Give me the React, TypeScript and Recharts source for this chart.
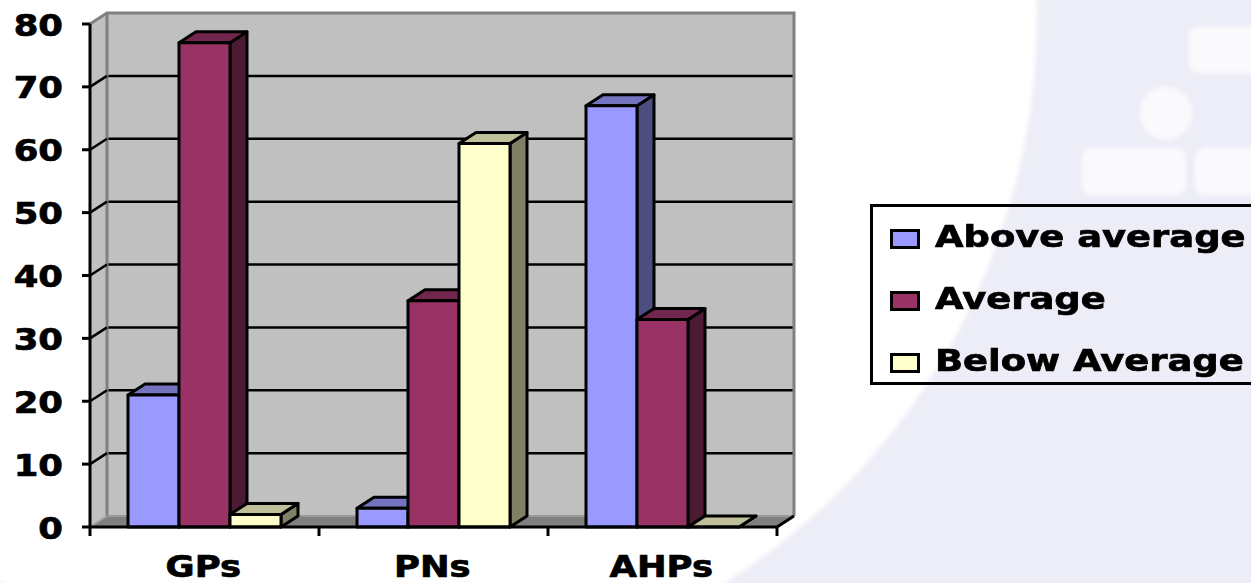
import React from 'react';
import { BarChart, Bar, XAxis, YAxis, Legend, ReferenceArea } from 'recharts';

const categories = ['GPs', 'PNs', 'AHPs'];
const aboveAverage = [21, 3, 67];
const average = [77, 36, 33];
const belowAverage = [2, 61, 0];
const yTicks = [0, 10, 20, 30, 40, 50, 60, 70, 80];

const seriesInfo = [
  { key: 'above', name: 'Above average', front: '#9999FF', top: '#7373C0', side: '#4D4D80' },
  { key: 'average', name: 'Average', front: '#993366', top: '#73264D', side: '#4D1A33' },
  { key: 'below', name: 'Below Average', front: '#FFFFCC', top: '#BFBF99', side: '#808066' },
];

const data = categories.map((c, i) => ({
  category: c,
  above: aboveAverage[i],
  average: average[i],
  below: belowAverage[i],
}));

const DX = 17;
const DY = 11;
const FONT = '"DejaVu Sans", Verdana, sans-serif';
const YMAX = yTicks[yTicks.length - 1];

const Bar3D = (props: any) => {
  const { x, y, width, height, fill, topColor, sideColor } = props;
  if (x == null || y == null) return null;
  const h = Math.max(0, height || 0);
  const s = { stroke: '#000', strokeWidth: 3, strokeLinejoin: 'round' as const };
  return (
    <g>
      <polygon
        points={`${x + width},${y} ${x + width + DX},${y - DY} ${x + width + DX},${y + h - DY} ${x + width},${y + h}`}
        fill={sideColor}
        {...s}
      />
      <polygon
        points={`${x},${y} ${x + DX},${y - DY} ${x + width + DX},${y - DY} ${x + width},${y}`}
        fill={topColor}
        {...s}
      />
      <rect x={x} y={y} width={width} height={h} fill={fill} {...s} />
    </g>
  );
};

const Walls = (props: any) => {
  const { x, y, width, height } = props;
  if (x == null) return null;
  const b = y + height;
  const n = categories.length;
  return (
    <g>
      <polygon points={`${x},${y} ${x + DX},${y - DY} ${x + DX},${b - DY} ${x},${b}`} fill="#C0C0C0" />
      <rect x={x + DX} y={y - DY} width={width} height={height} fill="#C0C0C0" />
      <polygon points={`${x},${b} ${x + DX},${b - DY} ${x + width + DX},${b - DY} ${x + width},${b}`} fill="#808080" />
      <line x1={x + DX} y1={b - DY} x2={x + width + DX} y2={b - DY} stroke="#9a9a9a" strokeWidth={2} />
      {yTicks
        .filter((v) => v > 0 && v < YMAX)
        .map((v) => {
          const yy = y + height * (1 - v / YMAX) - DY;
          return <line key={v} x1={x + DX} y1={yy} x2={x + width + DX} y2={yy} stroke="#000" strokeWidth={2.5} />;
        })}
      <polyline
        points={`${x},${y} ${x + DX},${y - DY} ${x + width + DX},${y - DY} ${x + width + DX},${b - DY}`}
        fill="none"
        stroke="#808080"
        strokeWidth={3}
      />
      <line x1={x + DX} y1={y - DY} x2={x + DX} y2={b - DY} stroke="#808080" strokeWidth={3} />
      <line x1={x} y1={b} x2={x + DX} y2={b - DY} stroke="#a0a0a0" strokeWidth={2} />
      <line x1={x + width} y1={b} x2={x + width + DX} y2={b - DY} stroke="#000" strokeWidth={3} />
      {Array.from({ length: n + 1 }).map((_, i) => {
        const xx = x + (width * i) / n;
        return <line key={i} x1={xx} y1={b} x2={xx} y2={b + 9} stroke="#000" strokeWidth={3} />;
      })}
    </g>
  );
};

const YTick = (props: any) => {
  const { x, y, payload } = props;
  const axisX = x + 26;
  const v = payload.value;
  return (
    <g>
      {v > 0 && v < YMAX && (
        <line x1={axisX} y1={y} x2={axisX + DX} y2={y - DY} stroke="#000" strokeWidth={2.5} />
      )}
      <g transform={`translate(${x - 1},${y + 1}) scale(1.2,1)`}>
        <text
          x={0}
          y={0}
          dy="0.36em"
          textAnchor="end"
          fontFamily={FONT}
          fontWeight="bold"
          fontSize={29.5}
          fill="#000"
          stroke="#000"
          strokeWidth={0.7}
        >
          {v}
        </text>
      </g>
    </g>
  );
};

const XTick = (props: any) => {
  const { x, y, payload } = props;
  return (
    <g transform={`translate(${x},${y}) scale(1.2,1)`}>
      <text
        x={-1}
        y={0}
        dy={42}
        textAnchor="middle"
        fontFamily={FONT}
        fontWeight="bold"
        fontSize={29.5}
        fill="#000"
        stroke="#000"
        strokeWidth={0.7}
      >
        {payload.value}
      </text>
    </g>
  );
};

const LegendBox = () => (
  <div
    style={{
      position: 'relative',
      width: 400,
      height: 181,
      border: '3px solid #000',
      boxSizing: 'border-box',
      fontFamily: FONT,
    }}
  >
    {seriesInfo.map((s, i) => (
      <div key={s.key} style={{ position: 'absolute', left: 0, top: 2 + i * 62, height: 60, width: 400 }}>
        <div
          style={{
            position: 'absolute',
            left: 17,
            top: 20,
            width: 30,
            height: 20,
            boxSizing: 'border-box',
            background: s.front,
            border: '3px solid #000',
          }}
        />
        <div
          style={{
            position: 'absolute',
            left: 62,
            top: 10,
            fontSize: 29.5,
            fontWeight: 'bold',
            lineHeight: '36px',
            whiteSpace: 'nowrap',
            transform: 'scaleX(1.25)',
            transformOrigin: 'left center',
            color: '#000',
            WebkitTextStroke: '0.7px #000',
          }}
        >
          {s.name}
        </div>
      </div>
    ))}
  </div>
);

const Background = () => (
  <svg width={1251} height={583} style={{ position: 'absolute', left: 0, top: 0 }}>
    <defs>
      <filter id="soft" x="-10%" y="-10%" width="120%" height="120%">
        <feGaussianBlur stdDeviation="2" />
      </filter>
    </defs>
    <rect x={0} y={0} width={1251} height={583} fill="#EDEDF7" />
    <circle cx={364} cy={15} r={673} fill="#FFFFFF" filter="url(#soft)" />
    <g fill="#FAFAFD" filter="url(#soft)">
      <rect x={1189} y={27} width={80} height={46} rx={10} />
      <circle cx={1166} cy={113} r={26} />
      <rect x={1082} y={148} width={104} height={47} rx={10} />
      <rect x={1195} y={148} width={80} height={47} rx={10} />
    </g>
  </svg>
);

export default function App() {
  return (
    <div style={{ position: 'absolute', left: 0, top: 0, width: 1251, height: 583, overflow: 'hidden', background: '#fff' }}>
      <Background />
      <div style={{ position: 'absolute', left: 0, top: 0 }}>
        <BarChart
          width={1251}
          height={583}
          data={data}
          margin={{ top: 24, right: 474, bottom: 0, left: 0 }}
          barGap={0}
          barSize={51}
        >
          <ReferenceArea y1={0} y2={YMAX} ifOverflow="visible" shape={(p: any) => <Walls {...p} />} />
          <XAxis
            dataKey="category"
            height={56}
            tickLine={false}
            axisLine={{ stroke: '#000', strokeWidth: 3 }}
            tick={<XTick />}
            interval={0}
          />
          <YAxis
            width={90}
            domain={[0, YMAX]}
            ticks={yTicks}
            interval={0}
            tickSize={8}
            tickMargin={18}
            axisLine={{ stroke: '#000', strokeWidth: 3 }}
            tickLine={{ stroke: '#000', strokeWidth: 3 }}
            tick={<YTick />}
          />
          <Legend
            layout="vertical"
            align="center"
            verticalAlign="middle"
            content={<LegendBox />}
            wrapperStyle={{ position: 'absolute', left: 870, top: 204, width: 400, height: 181 }}
          />
          {seriesInfo.map((s) => (
            <Bar
              key={s.key}
              dataKey={s.key}
              name={s.name}
              fill={s.front}
              isAnimationActive={false}
              shape={(p: any) => <Bar3D {...p} topColor={s.top} sideColor={s.side} />}
            />
          ))}
        </BarChart>
      </div>
    </div>
  );
}
